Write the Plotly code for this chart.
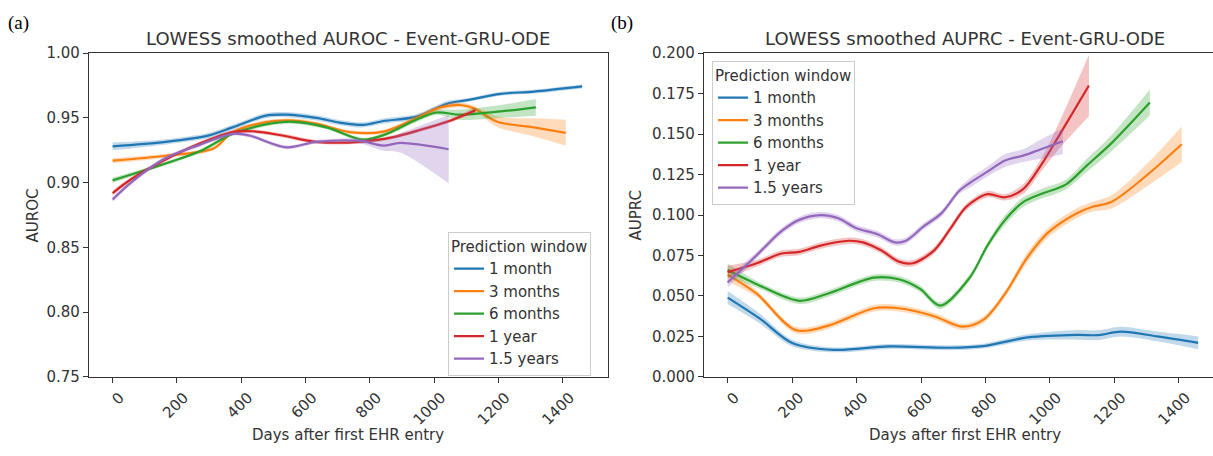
import plotly.graph_objects as go

# ---------------- data ----------------
series_names = ["1 month", "3 months", "6 months", "1 year", "1.5 years"]
colors = ["#1f77b4", "#ff7f0e", "#2ca02c", "#d62728", "#9467bd"]
fills = ["rgba(31,119,180,0.28)", "rgba(255,127,14,0.28)", "rgba(44,160,44,0.28)",
         "rgba(214,39,40,0.28)", "rgba(148,103,189,0.28)"]

# (a) AUROC
auroc_1m_days = [0, 165, 300, 373, 477, 540, 633, 706, 779, 842, 946, 1040, 1102, 1206, 1310, 1460]
auroc_1m_vals = [0.928, 0.9315, 0.9365, 0.9427, 0.9518, 0.9525, 0.950, 0.9464, 0.9446, 0.9476, 0.951, 0.961, 0.9637, 0.9686, 0.9703, 0.9743]
auroc_1m_ci = [0.003, 0.002, 0.002, 0.002, 0.002, 0.002, 0.002, 0.002, 0.002, 0.002, 0.002, 0.002, 0.0015, 0.0015, 0.0015, 0.0015]

auroc_3m_days = [0, 165, 315, 373, 477, 560, 633, 737, 842, 946, 1019, 1081, 1123, 1196, 1310, 1409]
auroc_3m_vals = [0.917, 0.9208, 0.9266, 0.939, 0.9468, 0.948, 0.9456, 0.939, 0.9394, 0.950, 0.958, 0.960, 0.9575, 0.947, 0.9427, 0.9385]
auroc_3m_ci = [0.002, 0.0015, 0.0015, 0.0015, 0.0015, 0.0015, 0.0015, 0.0015, 0.0015, 0.002, 0.002, 0.002, 0.002, 0.004, 0.007, 0.010]

auroc_6m_days = [0, 112, 269, 373, 477, 560, 665, 779, 852, 946, 1008, 1081, 1206, 1316]
auroc_6m_vals = [0.9018, 0.9105, 0.924, 0.9377, 0.945, 0.947, 0.9427, 0.9332, 0.9377, 0.9488, 0.9542, 0.9525, 0.955, 0.9582]
auroc_6m_ci = [0.002, 0.0015, 0.0015, 0.0015, 0.0015, 0.0015, 0.0015, 0.0015, 0.0015, 0.002, 0.002, 0.004, 0.005, 0.0065]

auroc_1y_days = [0, 60, 165, 269, 373, 435, 529, 633, 769, 873, 946, 1040, 1128]
auroc_1y_vals = [0.892, 0.903, 0.9179, 0.930, 0.939, 0.9397, 0.9364, 0.9315, 0.9315, 0.9352, 0.940, 0.947, 0.956]
auroc_1y_ci = [0.002, 0.0015, 0.0015, 0.0015, 0.0015, 0.0015, 0.0015, 0.0015, 0.0015, 0.0015, 0.0015, 0.0015, 0.002]

auroc_15y_days = [0, 60, 165, 269, 373, 425, 540, 633, 769, 842, 894, 1045]
auroc_15y_vals = [0.887, 0.9006, 0.919, 0.929, 0.9377, 0.9364, 0.9273, 0.9315, 0.9323, 0.9286, 0.9307, 0.9258]
auroc_15y_ci = [0.002, 0.0015, 0.0015, 0.0015, 0.0015, 0.0015, 0.0015, 0.0015, 0.002, 0.004, 0.0075, 0.0265]

# (b) AUPRC
auprc_1m_days = [0, 100, 200, 330, 500, 685, 793, 932, 1086, 1150, 1220, 1333, 1460]
auprc_1m_vals = [0.049, 0.036, 0.021, 0.0167, 0.0188, 0.018, 0.019, 0.0244, 0.026, 0.0258, 0.028, 0.025, 0.021]
auprc_1m_ci = [0.004, 0.003, 0.002, 0.0015, 0.0015, 0.0015, 0.0015, 0.002, 0.003, 0.003, 0.003, 0.003, 0.004]

auprc_3m_days = [0, 90, 210, 310, 454, 531, 641, 729, 795, 861, 928, 994, 1082, 1130, 1190, 1302, 1409]
auprc_3m_vals = [0.063, 0.0514, 0.029, 0.0315, 0.0424, 0.0424, 0.0375, 0.031, 0.0355, 0.0514, 0.0732, 0.0891, 0.101, 0.105, 0.108, 0.1248, 0.1437]
auprc_3m_ci = [0.004, 0.002, 0.002, 0.002, 0.002, 0.002, 0.002, 0.002, 0.002, 0.002, 0.003, 0.003, 0.003, 0.003, 0.004, 0.007, 0.011]

auprc_6m_days = [0, 90, 222, 310, 454, 531, 597, 660, 751, 806, 861, 917, 972, 1049, 1115, 1192, 1310]
auprc_6m_vals = [0.066, 0.0573, 0.047, 0.0514, 0.0613, 0.0603, 0.0544, 0.044, 0.0613, 0.0811, 0.097, 0.108, 0.113, 0.1188, 0.1307, 0.1446, 0.1695]
auprc_6m_ci = [0.004, 0.002, 0.002, 0.002, 0.002, 0.002, 0.002, 0.002, 0.002, 0.002, 0.003, 0.003, 0.003, 0.003, 0.004, 0.005, 0.008]

auprc_1y_days = [0, 90, 167, 222, 288, 376, 420, 476, 531, 574, 641, 696, 740, 806, 861, 917, 972, 1027, 1121]
auprc_1y_vals = [0.0647, 0.0702, 0.0762, 0.0772, 0.0811, 0.0841, 0.0831, 0.0782, 0.0712, 0.0702, 0.0782, 0.093, 0.105, 0.1129, 0.111, 0.116, 0.1307, 0.1486, 0.180]
auprc_1y_ci = [0.004, 0.002, 0.002, 0.002, 0.002, 0.002, 0.002, 0.002, 0.002, 0.002, 0.002, 0.002, 0.002, 0.002, 0.002, 0.003, 0.004, 0.008, 0.019]

auprc_15y_days = [0, 90, 167, 222, 288, 343, 398, 465, 519, 553, 608, 663, 718, 751, 806, 861, 917, 972, 1040]
auprc_15y_vals = [0.0583, 0.0752, 0.090, 0.097, 0.100, 0.098, 0.092, 0.0881, 0.0831, 0.0841, 0.093, 0.101, 0.1149, 0.1198, 0.1268, 0.1337, 0.1367, 0.1407, 0.1456]
auprc_15y_ci = [0.003, 0.002, 0.002, 0.002, 0.002, 0.002, 0.002, 0.002, 0.002, 0.002, 0.002, 0.002, 0.002, 0.003, 0.003, 0.004, 0.004, 0.006, 0.008]

x_ticks = [0, 200, 400, 600, 800, 1000, 1200, 1400]
auroc_ticks = [0.75, 0.80, 0.85, 0.90, 0.95, 1.00]
auprc_ticks = [0.000, 0.025, 0.050, 0.075, 0.100, 0.125, 0.150, 0.175, 0.200]

auroc_series = [
    (auroc_1m_days, auroc_1m_vals, auroc_1m_ci),
    (auroc_3m_days, auroc_3m_vals, auroc_3m_ci),
    (auroc_6m_days, auroc_6m_vals, auroc_6m_ci),
    (auroc_1y_days, auroc_1y_vals, auroc_1y_ci),
    (auroc_15y_days, auroc_15y_vals, auroc_15y_ci),
]
auprc_series = [
    (auprc_1m_days, auprc_1m_vals, auprc_1m_ci),
    (auprc_3m_days, auprc_3m_vals, auprc_3m_ci),
    (auprc_6m_days, auprc_6m_vals, auprc_6m_ci),
    (auprc_1y_days, auprc_1y_vals, auprc_1y_ci),
    (auprc_15y_days, auprc_15y_vals, auprc_15y_ci),
]

# ---------------- figure ----------------
W, H = 1213, 456
FONT = "DejaVu Sans"
AX = "#333333"

fig = go.Figure()


def add_series(days, vals, ci, i, xa, ya, legend):
    lo = [v - c for v, c in zip(vals, ci)]
    hi = [v + c for v, c in zip(vals, ci)]
    fig.add_trace(go.Scatter(x=days, y=lo, mode="lines", line=dict(width=0, shape="spline", smoothing=0.9),
                             showlegend=False, hoverinfo="skip", xaxis=xa, yaxis=ya))
    fig.add_trace(go.Scatter(x=days, y=hi, mode="lines", line=dict(width=0, shape="spline", smoothing=0.9),
                             fill="tonexty", fillcolor=fills[i], showlegend=False, hoverinfo="skip",
                             xaxis=xa, yaxis=ya))
    fig.add_trace(go.Scatter(x=days, y=vals, mode="lines", name=series_names[i],
                             line=dict(color=colors[i], width=2.2, shape="spline", smoothing=0.9),
                             xaxis=xa, yaxis=ya, legend=legend))


for i, (d, v, c) in enumerate(auroc_series):
    add_series(d, v, c, i, "x", "y", "legend")
for i, (d, v, c) in enumerate(auprc_series):
    add_series(d, v, c, i, "x2", "y2", "legend2")

ydom = [1 - 383 / H, 1 - 46 / H]
axis_common = dict(showgrid=False, zeroline=False, showline=True, linecolor=AX, linewidth=1.2,
                   ticks="outside", ticklen=5, tickwidth=1.2, tickcolor=AX,
                   tickfont=dict(family=FONT, size=15, color="#333333"))

legend_common = dict(xanchor="left", yanchor="top", traceorder="normal",
                     bgcolor="rgba(255,255,255,0.85)", bordercolor="#cccccc", borderwidth=1,
                     font=dict(family=FONT, size=15, color="#333333"),
                     title=dict(text="Prediction window", font=dict(family=FONT, size=15, color="#333333")))

fig.update_layout(
    width=W, height=H,
    margin=dict(l=0, r=0, t=0, b=0),
    paper_bgcolor="white", plot_bgcolor="white",
    font=dict(family=FONT, size=15, color="#333333"),
    xaxis=dict(domain=[89 / W, 608 / W], range=[-73.4, 1540.4], tickvals=x_ticks,
               tickangle=-45, ticklabelshift=7, mirror=True, anchor="y", **axis_common),
    yaxis=dict(domain=ydom, range=[0.75, 1.0], tickvals=auroc_ticks,
               ticktext=[f"{t:.2f}" for t in auroc_ticks], mirror=True, anchor="x", **axis_common),
    xaxis2=dict(domain=[704 / W, 1.0], range=[-73.4, 1506], tickvals=x_ticks,
                tickangle=-45, ticklabelshift=7, mirror=True, anchor="y2", **axis_common),
    yaxis2=dict(domain=ydom, range=[0, 0.2], tickvals=auprc_ticks,
                ticktext=[f"{t:.3f}" for t in auprc_ticks], mirror=False, anchor="x2", **axis_common),
    legend=dict(x=448 / W, y=1 - 232 / H, **legend_common),
    legend2=dict(x=712 / W, y=1 - 54 / H, **legend_common),
)

ann = [
    dict(text="(a)", x=18 / W, y=1 - 15 / H, font=dict(family="Liberation Serif", size=19, color="black")),
    dict(text="(b)", x=622 / W, y=1 - 15 / H, font=dict(family="Liberation Serif", size=19, color="black")),
    dict(text="LOWESS smoothed AUROC - Event-GRU-ODE", x=348 / W, y=1 - 31 / H,
         font=dict(family=FONT, size=18, color="#333333")),
    dict(text="LOWESS smoothed AUPRC - Event-GRU-ODE", x=965 / W, y=1 - 31 / H,
         font=dict(family=FONT, size=18, color="#333333")),
    dict(text="AUROC", x=33 / W, y=1 - 215 / H, textangle=-90, font=dict(family=FONT, size=15, color="#333333")),
    dict(text="AUPRC", x=636 / W, y=1 - 215 / H, textangle=-90, font=dict(family=FONT, size=15, color="#333333")),
    dict(text="Days after first EHR entry", x=348 / W, y=1 - 443 / H, font=dict(family=FONT, size=15, color="#333333")),
    dict(text="Days after first EHR entry", x=965 / W, y=1 - 443 / H, font=dict(family=FONT, size=15, color="#333333")),
]
for a in ann:
    a.update(xref="paper", yref="paper", showarrow=False, xanchor="center", yanchor="middle")
fig.update_layout(annotations=ann)

fig.write_html("out.html")
